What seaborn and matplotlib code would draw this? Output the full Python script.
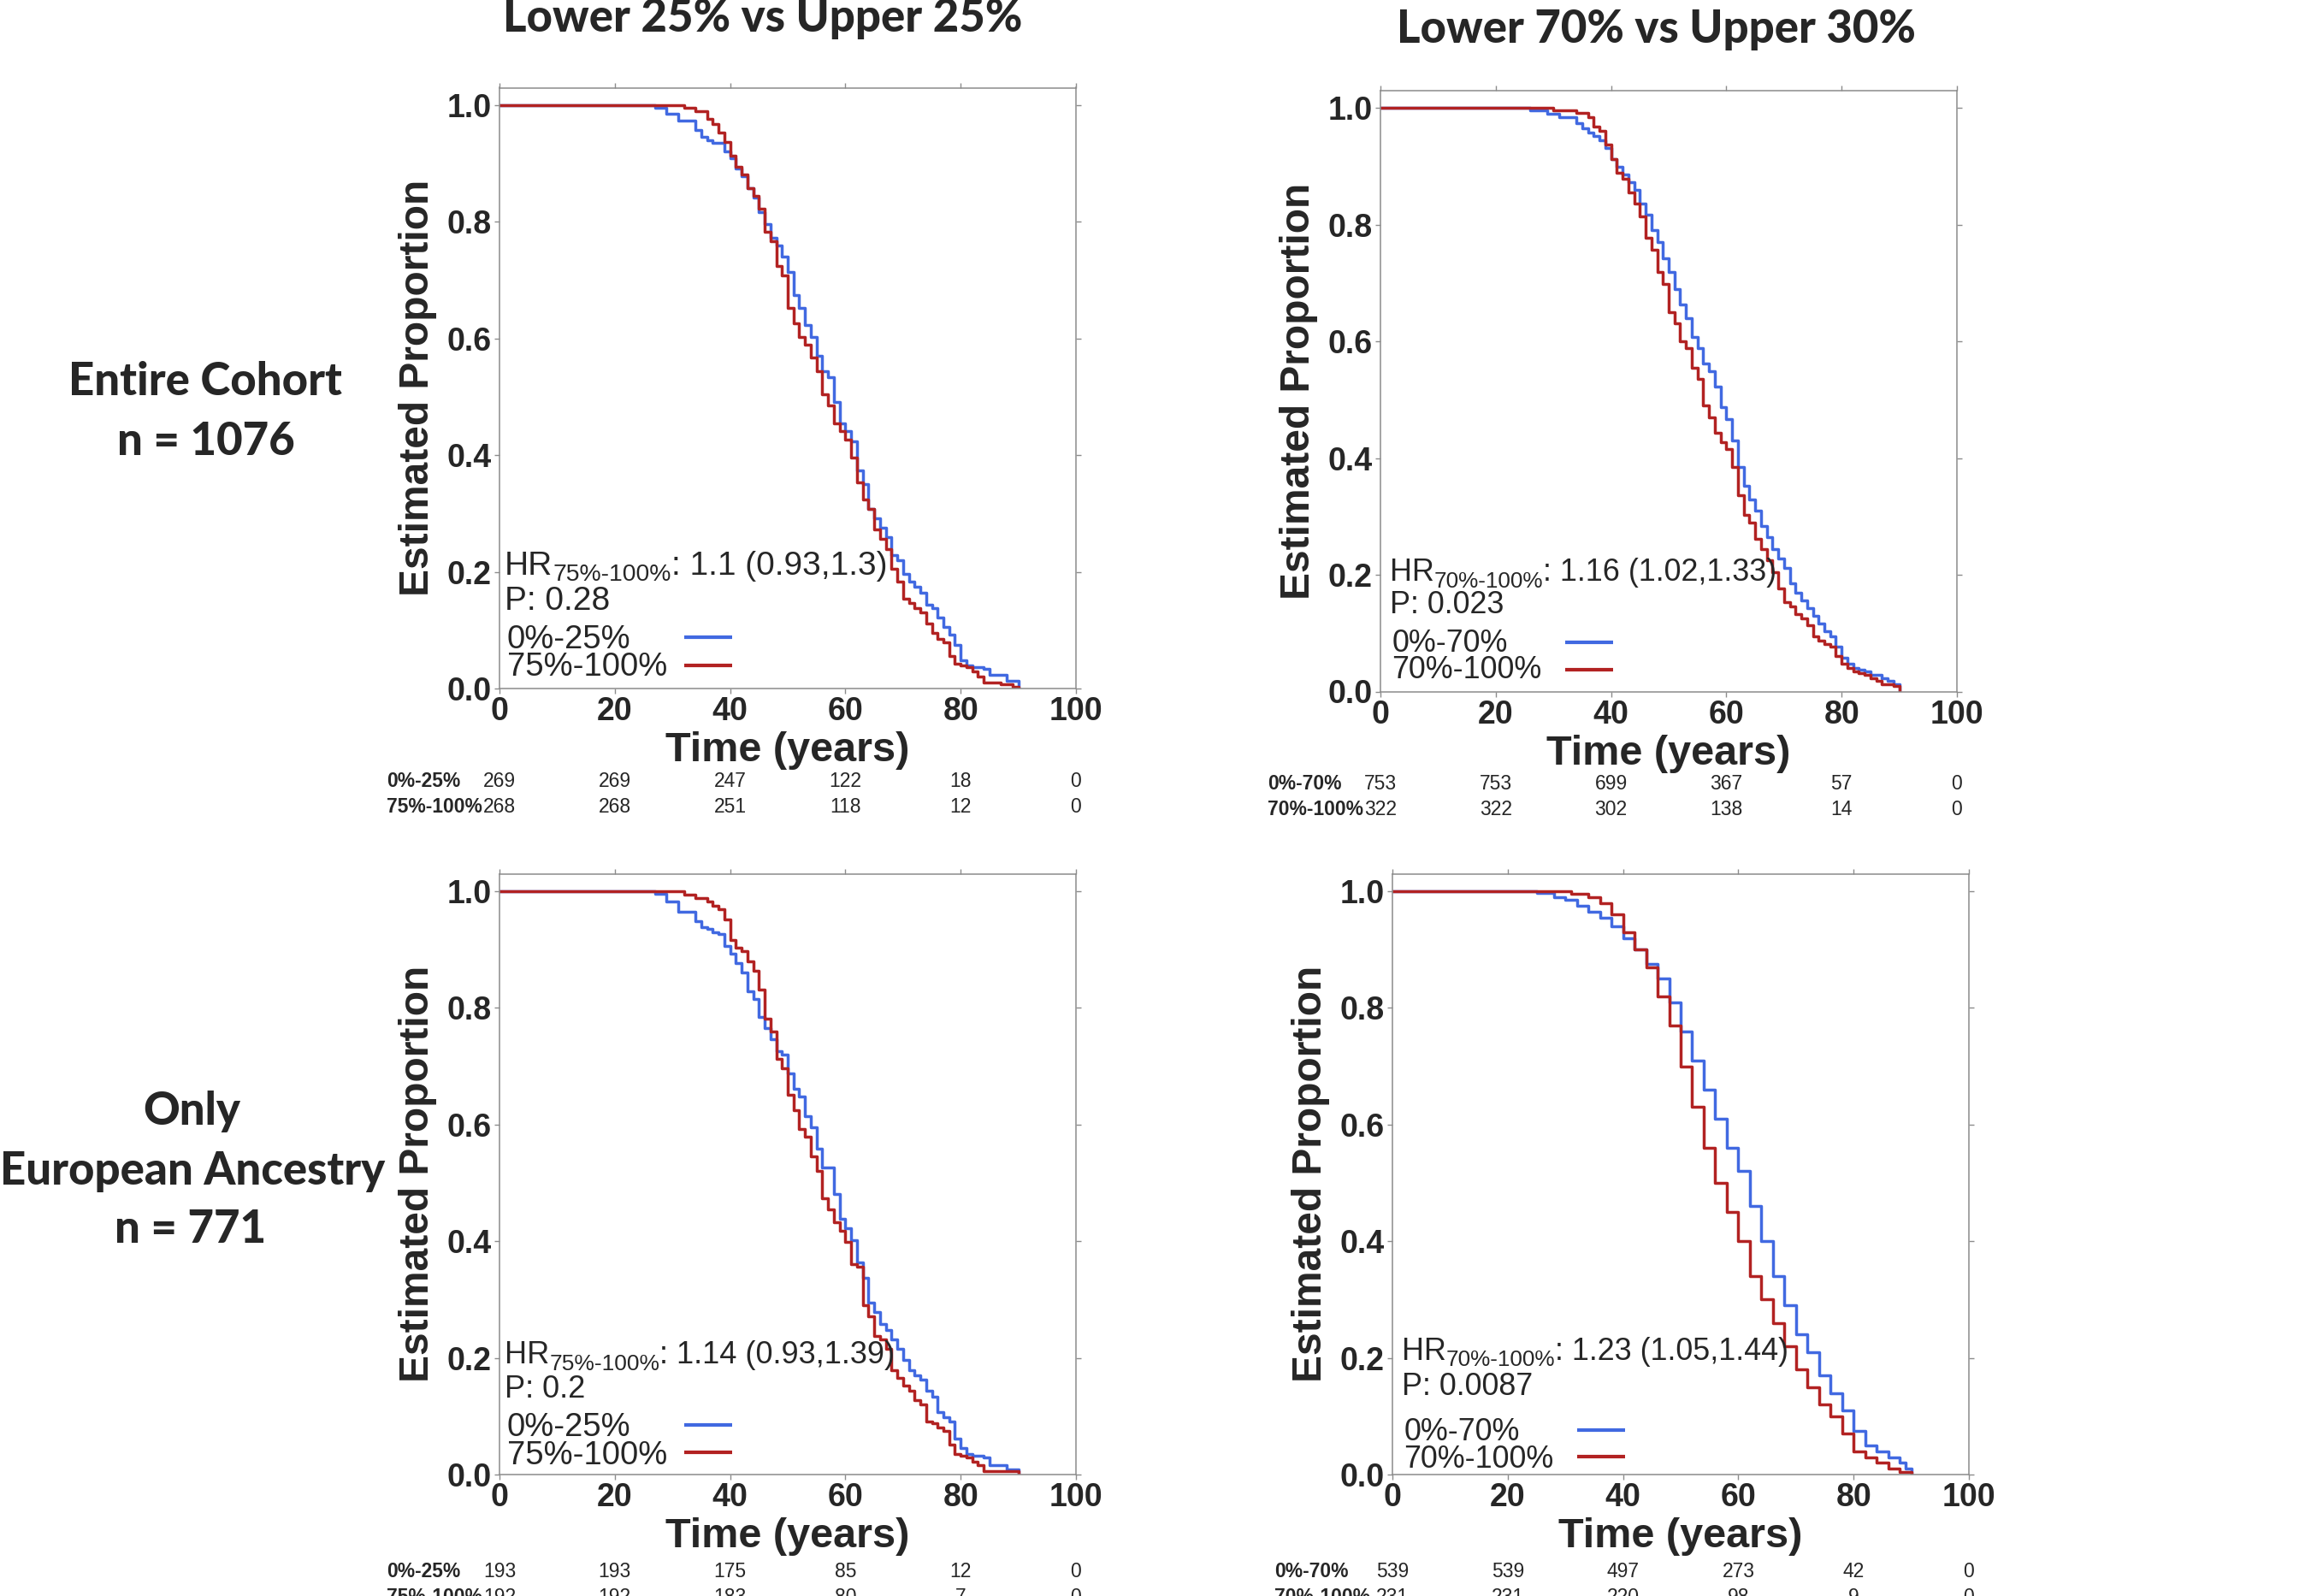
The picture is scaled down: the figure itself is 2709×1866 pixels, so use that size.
"""Survival curves by score group: 2x2 Kaplan-Meier panels with numbers at risk."""

import matplotlib

matplotlib.use("Agg")
import matplotlib.pyplot as plt
import matplotlib.transforms as mtransforms
import pandas as pd
import seaborn as sns

BLUE = "#4169e1"
RED = "#b22222"
SPINE = "#8c8c8c"
W, H = 2709, 1866

# ---- headers -------------------------------------------------------------
col_titles = ["Lower 25% vs Upper 25%", "Lower 70% vs Upper 30%"]
row_titles = [["Entire Cohort", "n = 1076"], ["Only", "European Ancestry", "n = 771"]]

# ---- curve data (time in years, estimated proportion) --------------------
t_tl_low = [0, 27, 29, 31, 34, 35, 36, 37, 39, 40, 41, 42, 43, 44, 45, 46, 47, 48, 49,
            50, 51, 52, 53, 54, 55, 56, 57, 58, 59, 60, 61, 62, 63, 64, 65, 66, 67, 68,
            69, 70, 71, 72, 73, 74, 75, 76, 77, 78, 79, 80, 81, 82, 84, 85, 88, 90]
s_tl_low = [1.0, 0.996, 0.985, 0.973, 0.957, 0.946, 0.94, 0.935, 0.921, 0.909, 0.891,
            0.878, 0.858, 0.842, 0.816, 0.796, 0.773, 0.760, 0.740, 0.714, 0.675, 0.652,
            0.623, 0.603, 0.570, 0.544, 0.534, 0.491, 0.455, 0.442, 0.423, 0.374, 0.351,
            0.308, 0.292, 0.275, 0.259, 0.229, 0.220, 0.197, 0.183, 0.174, 0.164, 0.144,
            0.138, 0.121, 0.105, 0.092, 0.075, 0.049, 0.039, 0.036, 0.033, 0.023, 0.013, 0.0]

t_tl_high = [0, 32, 34, 36, 37, 38, 39, 40, 41, 42, 43, 44, 45, 46, 47, 48, 49, 50, 51,
             52, 53, 54, 55, 56, 57, 58, 59, 60, 61, 62, 63, 64, 65, 66, 67, 68, 69, 70,
             71, 72, 73, 74, 75, 76, 77, 78, 79, 80, 81, 82, 83, 84, 87, 89, 90]
s_tl_high = [1.0, 0.995, 0.99, 0.976, 0.968, 0.953, 0.937, 0.914, 0.894, 0.881, 0.858,
             0.845, 0.822, 0.783, 0.767, 0.724, 0.708, 0.652, 0.626, 0.603, 0.590, 0.567,
             0.544, 0.505, 0.485, 0.455, 0.442, 0.426, 0.396, 0.354, 0.324, 0.308, 0.272,
             0.256, 0.239, 0.206, 0.183, 0.154, 0.147, 0.138, 0.131, 0.111, 0.095, 0.085,
             0.079, 0.056, 0.043, 0.039, 0.036, 0.029, 0.020, 0.010, 0.007, 0.003, 0.0]

t_tr_low = [0, 26, 29, 31, 34, 35, 36, 37, 38, 39, 40, 41, 42, 43, 44, 45, 46, 47, 48,
            49, 50, 51, 52, 53, 54, 55, 56, 57, 58, 59, 60, 61, 62, 63, 64, 65, 66, 67,
            68, 69, 70, 71, 72, 73, 74, 75, 76, 77, 78, 79, 80, 81, 82, 83, 84, 85, 87,
            88, 89, 90]
s_tr_low = [1.0, 0.997, 0.991, 0.984, 0.974, 0.965, 0.958, 0.952, 0.945, 0.932, 0.912,
            0.899, 0.886, 0.873, 0.860, 0.837, 0.817, 0.791, 0.771, 0.742, 0.719, 0.690,
            0.663, 0.640, 0.608, 0.588, 0.562, 0.549, 0.523, 0.487, 0.467, 0.431, 0.385,
            0.352, 0.329, 0.310, 0.284, 0.264, 0.244, 0.228, 0.212, 0.185, 0.169, 0.156,
            0.143, 0.130, 0.117, 0.103, 0.094, 0.077, 0.058, 0.048, 0.041, 0.038, 0.035,
            0.028, 0.022, 0.018, 0.012, 0.0]

t_tr_high = [0, 30, 34, 36, 37, 38, 39, 40, 41, 42, 43, 44, 45, 46, 47, 48, 49, 50, 51,
             52, 53, 54, 55, 56, 57, 58, 59, 60, 61, 62, 63, 64, 65, 66, 67, 68, 69, 70,
             71, 72, 73, 74, 75, 76, 77, 78, 79, 80, 81, 82, 83, 84, 85, 86, 87, 89, 90]
s_tr_high = [1.0, 0.996, 0.992, 0.984, 0.968, 0.961, 0.938, 0.912, 0.889, 0.879, 0.856,
             0.837, 0.814, 0.778, 0.758, 0.719, 0.699, 0.650, 0.631, 0.601, 0.588, 0.555,
             0.536, 0.490, 0.470, 0.444, 0.428, 0.415, 0.385, 0.336, 0.303, 0.290, 0.261,
             0.244, 0.225, 0.205, 0.176, 0.153, 0.146, 0.133, 0.126, 0.113, 0.094, 0.087,
             0.081, 0.077, 0.061, 0.048, 0.041, 0.035, 0.031, 0.028, 0.022, 0.018, 0.012,
             0.009, 0.0]

t_bl_low = [0, 27, 29, 31, 34, 35, 36, 37, 38, 39, 40, 41, 42, 43, 44, 45, 46, 47, 48,
            49, 50, 51, 52, 53, 54, 55, 56, 58, 59, 60, 61, 62, 63, 64, 65, 66, 67, 68,
            69, 70, 71, 72, 73, 74, 75, 76, 77, 78, 79, 80, 81, 82, 84, 85, 88, 90]
s_bl_low = [1.0, 0.995, 0.982, 0.965, 0.949, 0.939, 0.936, 0.929, 0.926, 0.906, 0.893,
            0.877, 0.861, 0.828, 0.815, 0.785, 0.766, 0.746, 0.726, 0.720, 0.687, 0.661,
            0.648, 0.615, 0.595, 0.559, 0.527, 0.481, 0.438, 0.422, 0.402, 0.363, 0.337,
            0.294, 0.278, 0.258, 0.248, 0.232, 0.215, 0.196, 0.179, 0.170, 0.163, 0.143,
            0.134, 0.107, 0.098, 0.091, 0.062, 0.045, 0.035, 0.032, 0.029, 0.016, 0.009, 0.0]

t_bl_high = [0, 32, 34, 36, 37, 38, 39, 40, 41, 42, 43, 44, 45, 46, 47, 48, 49, 50, 51,
             52, 53, 54, 55, 56, 57, 58, 59, 60, 61, 62, 63, 64, 65, 66, 67, 68, 69, 70,
             71, 72, 73, 74, 75, 76, 77, 78, 79, 80, 81, 82, 83, 84, 90]
s_bl_high = [1.0, 0.994, 0.988, 0.982, 0.975, 0.969, 0.952, 0.916, 0.903, 0.897, 0.880,
             0.864, 0.832, 0.782, 0.759, 0.713, 0.697, 0.651, 0.625, 0.592, 0.579, 0.546,
             0.520, 0.474, 0.454, 0.432, 0.418, 0.399, 0.360, 0.356, 0.291, 0.271, 0.238,
             0.232, 0.215, 0.179, 0.166, 0.153, 0.143, 0.127, 0.120, 0.091, 0.088, 0.081,
             0.075, 0.052, 0.035, 0.032, 0.029, 0.022, 0.016, 0.006, 0.0]

t_br_low = [0, 25, 28, 30, 32, 34, 36, 38, 40, 42, 44, 46, 48, 50, 52, 54, 56, 58, 60,
            62, 64, 66, 68, 70, 72, 74, 76, 78, 80, 82, 84, 86, 88, 89, 90]
s_br_low = [1.0, 0.997, 0.99, 0.985, 0.975, 0.965, 0.955, 0.94, 0.92, 0.90, 0.875, 0.85,
            0.81, 0.76, 0.71, 0.66, 0.61, 0.56, 0.52, 0.46, 0.40, 0.34, 0.29, 0.24, 0.21,
            0.17, 0.14, 0.11, 0.075, 0.05, 0.04, 0.03, 0.02, 0.01, 0.0]

t_br_high = [0, 31, 34, 36, 38, 40, 42, 44, 46, 48, 50, 52, 54, 56, 58, 60, 62, 64, 66,
             68, 70, 72, 74, 76, 78, 80, 82, 84, 86, 88, 90]
s_br_high = [1.0, 0.995, 0.99, 0.98, 0.96, 0.93, 0.90, 0.87, 0.82, 0.77, 0.70, 0.63, 0.56,
             0.50, 0.45, 0.40, 0.34, 0.30, 0.26, 0.22, 0.18, 0.15, 0.12, 0.10, 0.07, 0.04,
             0.03, 0.02, 0.01, 0.005, 0.0]

# ---- numbers at risk -------------------------------------------------------
risk_times = [0, 20, 40, 60, 80, 100]
risk_tl_low = [269, 269, 247, 122, 18, 0]
risk_tl_high = [268, 268, 251, 118, 12, 0]
risk_tr_low = [753, 753, 699, 367, 57, 0]
risk_tr_high = [322, 322, 302, 138, 14, 0]
risk_bl_low = [193, 193, 175, 85, 12, 0]
risk_bl_high = [192, 192, 183, 80, 7, 0]
risk_br_low = [539, 539, 497, 273, 42, 0]
risk_br_high = [231, 231, 220, 98, 9, 0]

labels_25 = ["0%-25%", "75%-100%"]
labels_70 = ["0%-70%", "70%-100%"]

# ---- layout (pixel positions in the 2709x1866 canvas) ------------------------
panels = [
    dict(rect=(584, 805), labels=labels_25, low=(t_tl_low, s_tl_low), high=(t_tl_high, s_tl_high),
         risk=(risk_tl_low, risk_tl_high), hr=": 1.1 (0.93,1.3)", p="P: 0.28",
         hr_fs=28, leg_fs=27.5,
         hr_y=0.195, p_y=0.135, leg_x=1.3, leg_y=(0.069, 0.022), line_y=(0.088, 0.040),
         risk_lab_x=452, risk_y=(920, 950)),
    dict(rect=(1614, 808.5), labels=labels_70, low=(t_tr_low, s_tr_low), high=(t_tr_high, s_tr_high),
         risk=(risk_tr_low, risk_tr_high), hr=": 1.16 (1.02,1.33)", p="P: 0.023",
         hr_fs=25.8, leg_fs=25.8,
         hr_y=0.19, p_y=0.134, leg_x=2.0, leg_y=(0.068, 0.022), line_y=(0.085, 0.038),
         risk_lab_x=1482, risk_y=(923, 953)),
    dict(rect=(584, 1724), labels=labels_25, low=(t_bl_low, s_bl_low), high=(t_bl_high, s_bl_high),
         risk=(risk_bl_low, risk_bl_high), hr=": 1.14 (0.93,1.39)", p="P: 0.2",
         hr_fs=26, leg_fs=27.5,
         hr_y=0.19, p_y=0.132, leg_x=1.3, leg_y=(0.066, 0.018), line_y=(0.085, 0.038),
         risk_lab_x=452, risk_y=(1844, 1874)),
    dict(rect=(1628, 1724), labels=labels_70, low=(t_br_low, s_br_low), high=(t_br_high, s_br_high),
         risk=(risk_br_low, risk_br_high), hr=": 1.23 (1.05,1.44)", p="P: 0.0087",
         hr_fs=25.8, leg_fs=25.8,
         hr_y=0.197, p_y=0.137, leg_x=2.0, leg_y=(0.058, 0.012), line_y=(0.076, 0.031),
         risk_lab_x=1490, risk_y=(1844, 1874)),
]
AX_W, AX_H = 674, 702.5

sns.set_theme(style="white")
plt.rcParams["font.family"] = ["Liberation Sans", "DejaVu Sans"]

fig = plt.figure(figsize=(W / 100, H / 100), dpi=100)

for pan in panels:
    x0, ybot = pan["rect"]
    ax = fig.add_axes([x0 / W, 1 - ybot / H, AX_W / W, AX_H / H])

    frames = []
    for (t, s), lab in zip([pan["low"], pan["high"]], pan["labels"]):
        frames.append(pd.DataFrame({"time": t, "surv": s, "group": lab}))
    df = pd.concat(frames, ignore_index=True)
    sns.lineplot(data=df, x="time", y="surv", hue="group", palette=[BLUE, RED],
                 estimator=None, sort=False, drawstyle="steps-post", linewidth=2.5,
                 legend=False, ax=ax)

    ax.set_xlim(0, 100)
    ax.set_ylim(0, 1.03)
    ax.set_xticks(risk_times)
    ax.set_xticklabels([str(v) for v in risk_times])
    ax.set_yticks([0, 0.2, 0.4, 0.6, 0.8, 1.0])
    ax.set_yticklabels(["0.0", "0.2", "0.4", "0.6", "0.8", "1.0"])
    ax.tick_params(axis="both", which="both", direction="out", length=4.5, width=1,
                   color=SPINE, top=True, right=True, bottom=True, left=True,
                   labelsize=27, pad=2)
    for lab in ax.get_xticklabels() + ax.get_yticklabels():
        lab.set_fontweight("bold")
    for sp in ax.spines.values():
        sp.set_color(SPINE)
        sp.set_linewidth(1.1)
    ax.grid(False)

    ax.set_xlabel("Time (years)", fontsize=35, fontweight="bold")
    ax.xaxis.label.set_verticalalignment("baseline")
    ax.xaxis.set_label_coords(0.5, -85 / AX_H)
    ax.set_ylabel("Estimated Proportion", fontsize=34.5, fontweight="bold")
    ax.yaxis.label.set_verticalalignment("baseline")
    ax.yaxis.set_label_coords(-83 / AX_W, 0.5)

    # hazard ratio annotation with subscript
    fs = pan["hr_fs"]
    hr = ax.text(pan["leg_x"] - 0.4, pan["hr_y"], "HR", fontsize=fs, va="baseline", ha="left")
    sub = ax.annotate(pan["labels"][1], xy=(1, 0), xycoords=hr, xytext=(0, -3.5),
                      textcoords="offset points", fontsize=fs * 0.73, va="bottom", ha="left")
    ax.annotate(pan["hr"], xy=(1, 0), xycoords=(sub, hr), fontsize=fs, va="bottom", ha="left",
                zorder=5)
    ax.text(pan["leg_x"] - 0.4, pan["p_y"], pan["p"], fontsize=fs, va="baseline", ha="left")

    # legend: labels on the left, line swatches on the right
    for lab, ly, lny, col in zip(pan["labels"], pan["leg_y"], pan["line_y"], [BLUE, RED]):
        ax.text(pan["leg_x"], ly, lab, fontsize=pan["leg_fs"], va="baseline", ha="left")
        ax.plot([32, 40.4], [lny, lny], color=col, linewidth=3, solid_capstyle="butt")

    # numbers at risk table under the axis
    trans = mtransforms.blended_transform_factory(ax.transData, fig.transFigure)
    for lab, counts, ry in zip(pan["labels"], pan["risk"], pan["risk_y"]):
        fig.text(pan["risk_lab_x"] / W, 1 - ry / H, lab, fontsize=16.5, fontweight="bold",
                 ha="left", va="baseline")
        for tx, n in zip(risk_times, counts):
            ax.text(tx, 1 - ry / H, str(n), transform=trans, fontsize=16.5,
                    ha="center", va="baseline", clip_on=False)

# column titles and row headers
head_font = ["Lato", "DejaVu Sans"]
fig.text(892 / W, 1 - 37 / H, col_titles[0], fontsize=38, fontweight="black",
         family=head_font, ha="center", va="baseline")
fig.text(1936 / W, 1 - 50 / H, col_titles[1], fontsize=38, fontweight="black",
         family=head_font, ha="center", va="baseline")
for txt, cx, by in zip(row_titles[0], [240, 241], [462, 532]):
    fig.text(cx / W, 1 - by / H, txt, fontsize=38, fontweight="black", family=head_font,
             ha="center", va="baseline")
for txt, cx, by in zip(row_titles[1], [224, 225, 223], [1315, 1385, 1453]):
    fig.text(cx / W, 1 - by / H, txt, fontsize=38, fontweight="black", family=head_font,
             ha="center", va="baseline")

fig.savefig("out.png", dpi=100, facecolor="white")
